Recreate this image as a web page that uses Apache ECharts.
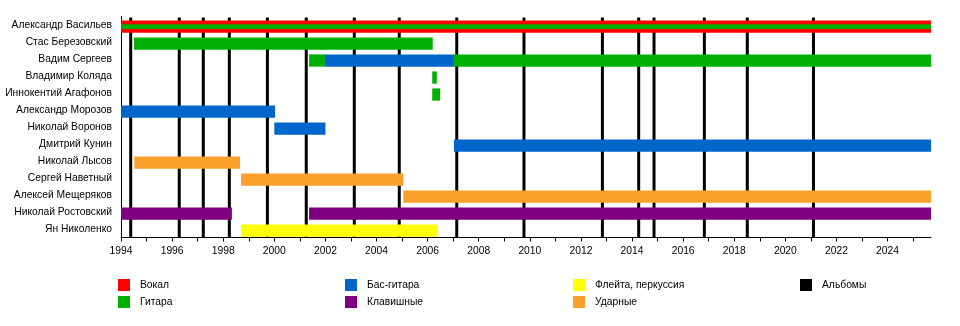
<!DOCTYPE html>
<html><head><meta charset="utf-8">
<script src="https://cdn.jsdelivr.net/npm/echarts@6/dist/echarts.min.js"></script>
<style>html,body{margin:0;padding:0;background:#fff}#c{width:960px;height:326px}</style>
</head><body><div id="c"></div>
<script>
const members = ['Александр Васильев','Стас Березовский','Вадим Сергеев','Владимир Коляда','Иннокентий Агафонов','Александр Морозов','Николай Воронов','Дмитрий Кунин','Николай Лысов','Сергей Наветный','Алексей Мещеряков','Николай Ростовский','Ян Николенко'];
const START = 1994;
const END = 2025.7;
const yearLabels = [1994,1996,1998,2000,2002,2004,2006,2008,2010,2012,2014,2016,2018,2020,2022,2024];
const yearTicks = [1994,1995,1996,1997,1998,1999,2000,2001,2002,2003,2004,2005,2006,2007,2008,2009,2010,2011,2012,2013,2014,2015,2016,2017,2018,2019,2020,2021,2022,2023,2024,2025];
const vocals = [['Александр Васильев',1994,END]];
const guitar = [['Александр Васильев',1994,END],['Стас Березовский',1994.51,2006.2],['Вадим Сергеев',2001.36,2001.98],['Вадим Сергеев',2007.03,END],['Владимир Коляда',2006.18,2006.36],['Иннокентий Агафонов',2006.18,2006.49]];
const bass = [['Вадим Сергеев',2001.98,2007.03],['Александр Морозов',1994,2000.03],['Николай Воронов',2000.0,2002.0],['Дмитрий Кунин',2007.03,END]];
const keys = [['Николай Ростовский',1994,1998.34],['Николай Ростовский',2001.36,END]];
const flute = [['Ян Николенко',1998.7,2006.37]];
const drums = [['Николай Лысов',1994.52,1998.66],['Сергей Наветный',1998.7,2005.05],['Алексей Мещеряков',2005.05,END]];
const albums = [1994.38,1996.28,1997.22,1998.24,1999.73,2001.25,2003.13,2004.89,2007.14,2009.77,2012.84,2014.26,2014.86,2016.83,2018.51,2021.10];

const FONT = '"Liberation Sans", Arial, sans-serif';
const FS = 10.3;
const vocalNames = vocals.map(v => v[0]);

function spanSeries(name, color, spans, thinForVocal) {
  return {
    name, type: 'custom', z: 3,
    itemStyle: { color },
    encode: { x: [0, 1], y: 2 },
    data: spans.map(s => [s[1], s[2], s[0]]),
    renderItem: function (params, api) {
      const idx = api.value(2);
      const row = members[idx];
      const s = api.coord([api.value(0), idx]);
      const e = api.coord([api.value(1), idx]);
      const band = api.size([0, 1])[1];
      const cy = s[1] + band * 0.09;
      let h = band * 0.72;
      if (thinForVocal && vocalNames.indexOf(row) >= 0) h = band * 0.28;
      return { type: 'rect', shape: { x: s[0], y: cy - h / 2, width: e[0] - s[0], height: h }, style: { fill: color } };
    }
  };
}

const chart = echarts.init(document.getElementById('c'));
chart.setOption({
  animation: false,
  grid: { left: 121, right: 29, top: 16.5, height: 221, outerBoundsMode: 'none', containLabel: false },
  xAxis: {
    type: 'value', min: START, max: END,
    axisLine: { show: true, lineStyle: { color: '#000', width: 1 } },
    axisTick: { show: true, length: 4, lineStyle: { color: '#000' }, customValues: yearTicks },
    splitLine: { show: false },
    axisLabel: { color: '#000', fontSize: FS, fontFamily: FONT, margin: 9, customValues: yearLabels,
      formatter: v => String(v) }
  },
  yAxis: {
    type: 'category', data: members, inverse: true,
    axisLine: { show: true, lineStyle: { color: '#000', width: 1 } },
    axisTick: { show: false },
    splitLine: { show: false },
    axisLabel: { color: '#000', fontSize: FS, fontFamily: FONT, margin: 9, padding: [4, 0, 0, 0] }
  },
  legend: [
    { data: ['Вокал', 'Гитара'], left: 118, top: 279 },
    { data: ['Бас-гитара', 'Клавишные'], left: 345, top: 279 },
    { data: ['Флейта, перкуссия', 'Ударные'], left: 573, top: 279 },
    { data: ['Альбомы'], left: 800, top: 279 }
  ].map(l => Object.assign({
    orient: 'vertical', itemWidth: 12, itemHeight: 12, itemGap: 5, icon: 'rect', padding: 0,
    selectedMode: false,
    textStyle: { color: '#000', fontSize: FS, fontFamily: FONT, padding: [0, 0, 0, 5] }
  }, l)),
  series: [
    {
      name: 'Альбомы', type: 'custom', z: 1,
      itemStyle: { color: '#000' },
      encode: { x: 0 },
      data: albums.map(a => [a]),
      renderItem: function (params, api) {
        const p = api.coord([api.value(0), 0]);
        const cs = params.coordSys;
        return { type: 'line', shape: { x1: p[0], y1: cs.y + 1, x2: p[0], y2: cs.y + cs.height }, style: { stroke: '#000', lineWidth: 3 } };
      }
    },
    spanSeries('Вокал', '#ff0000', vocals, false),
    spanSeries('Гитара', '#00b000', guitar, true),
    spanSeries('Бас-гитара', '#0066cc', bass, false),
    spanSeries('Клавишные', '#7f007f', keys, false),
    spanSeries('Флейта, перкуссия', '#ffff00', flute, false),
    spanSeries('Ударные', '#fca02c', drums, false)
  ]
});
</script></body></html>
